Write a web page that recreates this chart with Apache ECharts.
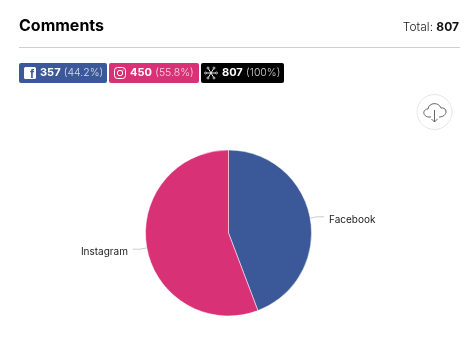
<!DOCTYPE html>
<html><head><meta charset="utf-8">
<style>html,body{margin:0;padding:0;background:#fff}#c{width:474px;height:352px}</style>
<script src="https://cdn.jsdelivr.net/npm/echarts@6/dist/echarts.min.js"></script>
</head><body><div id="c"></div>
<script>
const categories = ['Facebook', 'Instagram'];
const values = [357, 450];
const colors = ['#3b5998', '#d93176'];
const total = 807;
const F = 'Inter, "Open Sans", sans-serif';
const chart = echarts.init(document.getElementById('c'), null, {renderer:'canvas'});

function badge(x, w, fill, bold, light, textX) {
  return [
    {type:'rect', shape:{x:x, y:63, width:w, height:20, r:2}, style:{fill:fill}},
    {type:'text', x:textX, y:73, style:{
      rich:{b:{font:'700 11px '+F, fill:'#fff'}, l:{font:'300 10.5px '+F, fill:'rgba(255,255,255,0.8)'}},
      text:'{b|'+bold+'} {l|'+light+'}', verticalAlign:'middle', align:'left'}}
  ];
}
const ig = {stroke:'#fff', fill:'none', lineWidth:1};
const cl = {stroke:'#666', fill:'none', lineWidth:1};
const curve = (x1,y1,cx1,cy1,cx2,cy2,x2,y2) => ({type:'bezierCurve', shape:{x1,y1,x2,y2,cpx1:cx1,cpy1:cy1,cpx2:cx2,cpy2:cy2}, style:cl});
const spokes = [[208,68,214,78],[214,68,208,78],[205.5,73,216.5,73]];
const graphics = [
  {type:'text', x:19, y:26, style:{text:'Comments', font:'700 16px '+F, fill:'#000', verticalAlign:'middle'}},
  {type:'text', x:459, y:27, style:{
    rich:{r:{font:'300 12px '+F, fill:'#222'}, b:{font:'700 12px '+F, fill:'#111'}},
    text:'{r|Total:} {b|'+total+'}', align:'right', verticalAlign:'middle'}},
  {type:'line', shape:{x1:19, y1:47.5, x2:460, y2:47.5}, style:{stroke:'#cfcfcf', lineWidth:1}},
  ...badge(19, 88, colors[0], '357', '(44.2%)', 40),
  ...badge(109, 90, colors[1], '450', '(55.8%)', 130),
  ...badge(201, 83, '#000', '807', '(100%)', 222),
  {type:'rect', shape:{x:24, y:67, width:12, height:12, r:1.5}, style:{fill:'#fff'}},
  {type:'text', x:32, y:74.5, style:{text:'f', font:'700 12px Arial, "Liberation Sans"', fill:colors[0], align:'center', verticalAlign:'middle'}},
  {type:'rect', shape:{x:114.5, y:67.5, width:11, height:11, r:3}, style:ig},
  {type:'circle', shape:{cx:120, cy:73, r:2.7}, style:ig},
  {type:'circle', shape:{cx:123, cy:70, r:0.6}, style:{fill:'#fff'}},
  ...spokes.map(s => ({type:'line', shape:{x1:s[0],y1:s[1],x2:s[2],y2:s[3]}, style:{stroke:'#fff', lineWidth:0.9}})),
  ...[[208,68],[214,68],[208,78],[214,78],[205.5,73],[216.5,73]].map(p => ({type:'circle', shape:{cx:p[0],cy:p[1],r:1}, style:{fill:'#000',stroke:'#fff',lineWidth:0.7}})),
  {type:'circle', shape:{cx:434.5, cy:112, r:17.5}, style:{fill:'#fff', stroke:'#e6e6e6', lineWidth:1}},
  curve(431,117, 422,118, 422,109, 428,109),
  curve(428,109, 429,102, 439,102, 441,108),
  curve(441,108, 448,107, 448,117, 439,117),
  {type:'line', shape:{x1:434.5,y1:110,x2:434.5,y2:122}, style:cl},
  {type:'polyline', shape:{points:[[431.5,119],[434.5,122],[437.5,119]]}, style:cl}
];

chart.setOption({
  animation:false,
  graphic:graphics,
  series:[{
    type:'pie', center:[228.5,233], radius:[0,83], startAngle:90, clockwise:true,
    data:categories.map((n,i)=>({name:n, value:values[i], itemStyle:{color:colors[i]}})),
    itemStyle:{borderColor:'#fff', borderWidth:0.5},
    label:{show:true, formatter:'{b}', fontFamily:F, fontSize:10, color:'#222'},
    labelLayout:{dy:3},
    labelLine:{show:true, length:7, length2:7, smooth:false, lineStyle:{color:'#ccc', width:1}}
  }]
});
</script></body></html>
